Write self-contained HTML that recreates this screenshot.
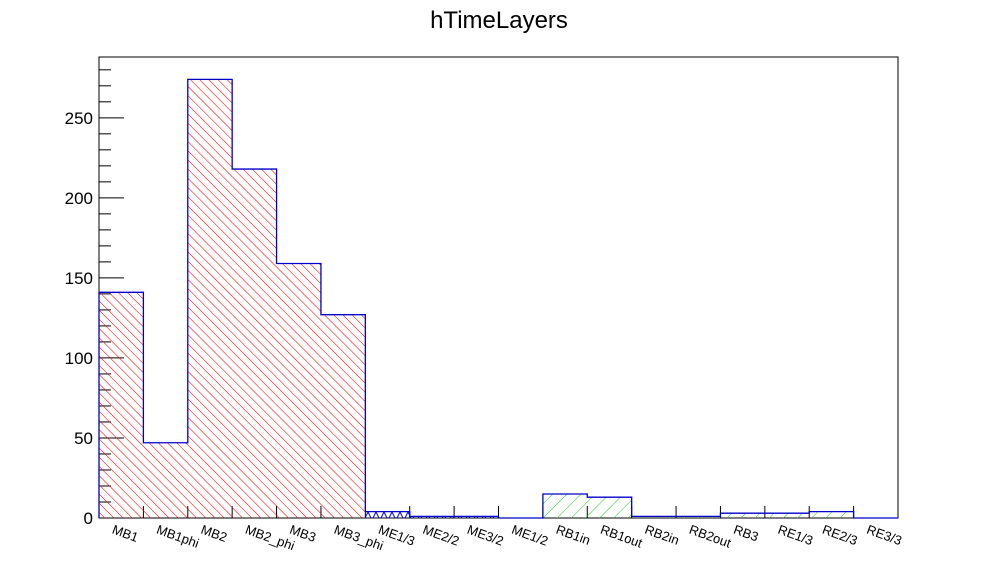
<!DOCTYPE html>
<html><head><meta charset="utf-8"><style>
body{margin:0;background:#fff}
svg{display:block;font-family:"Liberation Sans",sans-serif}
</style></head><body>
<svg id="c" width="998" height="576">
<defs>
<pattern id="hr" patternUnits="userSpaceOnUse" width="6.5" height="6.5" patternTransform="rotate(-45)"><line x1="0" y1="0" x2="0" y2="6.5" stroke="#f00" stroke-width="1.1"/></pattern>
<pattern id="hg" patternUnits="userSpaceOnUse" width="10" height="10" patternTransform="rotate(45)"><line x1="0" y1="0" x2="0" y2="10" stroke="#2c2" stroke-width="1"/></pattern>
<pattern id="hb" patternUnits="userSpaceOnUse" width="8" height="8"><path d="M0,0 L4,8 L8,0" fill="none" stroke="#00f" stroke-width="1"/></pattern>
</defs>
<text x="499" y="28" text-anchor="middle" font-size="24">hTimeLayers</text>
<g id="plot"></g>
</svg>
<script>
const categories=["MB1","MB1phi","MB2","MB2_phi","MB3","MB3_phi","ME1/3","ME2/2","ME3/2","ME1/2","RB1in","RB1out","RB2in","RB2out","RB3","RE1/3","RE2/3","RE3/3"];
const values=[141,47,274,218,159,127,4,1,1,0,15,13,1,1,3,3,4,0];
const yTicks=[0,50,100,150,200,250];
const X0=99,X1=898,Y0=518,Y1=57,YMAX=288;
const bw=(X1-X0)/categories.length;
const xs=i=>X0+i*bw;
const ys=v=>Y0-v*(Y0-Y1)/YMAX;
const NS="http://www.w3.org/2000/svg";
const g=document.getElementById('plot');
function mk(t,a){const e=document.createElementNS(NS,t);for(const k in a)e.setAttribute(k,a[k]);g.appendChild(e);return e;}
function fillFor(c){return c.startsWith('MB')?'url(#hr)':c.startsWith('ME')?'url(#hb)':'url(#hg)';}
let f=mk('rect',{x:X0,y:Y1,width:X1-X0,height:Y0-Y1,fill:'none',stroke:'#000','stroke-width':1});


for(let i=0;i<=categories.length;i++){
  let t=mk('line',{x1:xs(i),x2:xs(i),y1:Y0,y2:Y0-12,stroke:'#000'});
  
  
}
for(let v=0;v<=YMAX;v+=10){
  const major=v%50===0;
  let t=mk('line',{x1:X0,x2:X0+(major?25:12),y1:ys(v),y2:ys(v),stroke:'#000'});
  
  
}
yTicks.forEach(v=>{
  let t=mk('text',{x:X0-6,y:ys(v)+6,'text-anchor':'end','font-size':17});
  t.textContent=v;
  
  
});
let d='M'+X0+','+Y0;
categories.forEach((c,i)=>{
  const v=values[i];
  if(v>0){
    let r=mk('rect',{x:xs(i),y:ys(v),width:bw,height:Y0-ys(v),fill:fillFor(c)});
    
    
  }
  d+=' L'+xs(i)+','+ys(v)+' L'+xs(i+1)+','+ys(v);
});
d+=' L'+X1+','+Y0;
let o=mk('path',{d:d,fill:'none',stroke:'#00c','stroke-width':1.3});


categories.forEach((c,i)=>{
  const cx=xs(i)+bw/2;
  let t=mk('text',{x:cx-10,y:Y0+15,'font-size':13,transform:`rotate(20 ${cx-10} ${Y0+15})`});
  t.textContent=c;
  
  
});
</script>
</body></html>
